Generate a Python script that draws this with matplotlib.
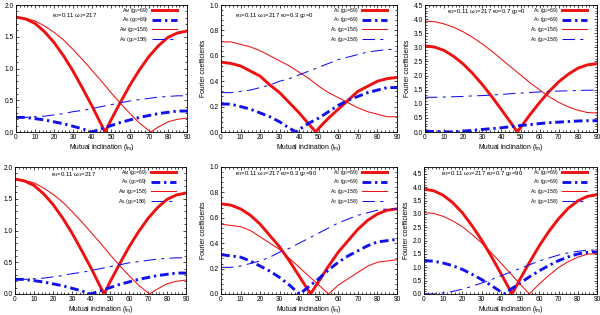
import numpy as np
import matplotlib
matplotlib.use('Agg')
import matplotlib.pyplot as plt
from matplotlib.ticker import MultipleLocator, AutoMinorLocator, FormatStrFormatter

plt.rcParams['font.family'] = ['Liberation Sans', 'DejaVu Sans']
plt.rcParams['mathtext.fontset'] = 'custom'
plt.rcParams['mathtext.rm'] = 'Liberation Sans'
plt.rcParams['mathtext.it'] = 'Liberation Sans'

# mutual inclination grid (deg)
incl = [0, 5, 10, 15, 20, 25, 30, 35, 40, 45, 50, 55, 60, 65, 70, 75, 80, 85, 90]

# panel a / d : e1=0.11 w1=217
am_69 = [1.81, 1.78, 1.71, 1.58, 1.41, 1.20, 0.96, 0.69, 0.41, 0.11, 0.19, 0.47, 0.74, 0.98, 1.19, 1.36, 1.49, 1.56, 1.59]
as_69 = [0.23, 0.23, 0.21, 0.19, 0.16, 0.13, 0.09, 0.05, 0.00, 0.05, 0.10, 0.15, 0.19, 0.23, 0.26, 0.29, 0.31, 0.33, 0.33]
am_158 = [1.81, 1.79, 1.75, 1.67, 1.57, 1.45, 1.30, 1.14, 0.97, 0.80, 0.62, 0.45, 0.29, 0.14, 0.02, 0.08, 0.16, 0.20, 0.22]
as_158 = [0.23, 0.23, 0.24, 0.25, 0.27, 0.29, 0.32, 0.34, 0.37, 0.40, 0.43, 0.46, 0.49, 0.51, 0.53, 0.55, 0.56, 0.57, 0.57]
zeros_a = [46.9, 39.8, 70.8, None]

# panel b : e2=0.3 g2=0
b_a1_69 = [0.55, 0.54, 0.52, 0.48, 0.44, 0.37, 0.31, 0.23, 0.15, 0.06, 0.03, 0.11, 0.18, 0.25, 0.32, 0.36, 0.40, 0.42, 0.43]
b_a2_69 = [0.22, 0.22, 0.20, 0.18, 0.15, 0.12, 0.08, 0.03, 0.02, 0.07, 0.11, 0.16, 0.21, 0.25, 0.28, 0.31, 0.33, 0.35, 0.35]
b_a1_158 = [0.71, 0.71, 0.69, 0.67, 0.64, 0.60, 0.56, 0.52, 0.47, 0.42, 0.36, 0.31, 0.27, 0.23, 0.19, 0.16, 0.14, 0.12, 0.12]
b_a2_158 = [0.31, 0.31, 0.32, 0.33, 0.35, 0.37, 0.40, 0.42, 0.45, 0.48, 0.51, 0.54, 0.57, 0.59, 0.61, 0.63, 0.64, 0.65, 0.65]
zeros_b = [48.5, 38.4, None, None]

# panel c : e2=0.7 g2=0
c_a1_69 = [3.05, 3.01, 2.89, 2.68, 2.41, 2.07, 1.68, 1.25, 0.79, 0.32, 0.16, 0.62, 1.05, 1.44, 1.78, 2.05, 2.26, 2.38, 2.42]
c_a2_69 = [0.02, 0.02, 0.01, 0.01, 0.03, 0.06, 0.09, 0.12, 0.15, 0.19, 0.23, 0.26, 0.30, 0.33, 0.35, 0.37, 0.39, 0.40, 0.40]
c_a1_158 = [3.93, 3.91, 3.83, 3.71, 3.55, 3.35, 3.12, 2.86, 2.58, 2.30, 2.02, 1.74, 1.49, 1.25, 1.05, 0.89, 0.77, 0.69, 0.67]
c_a2_158 = [1.23, 1.23, 1.24, 1.25, 1.26, 1.28, 1.29, 1.31, 1.33, 1.36, 1.38, 1.40, 1.42, 1.44, 1.45, 1.46, 1.47, 1.48, 1.48]
zeros_c = [48.3, 12.6, None, None]

# panel e : e2=0.3 g2=90
e_a1_69 = [0.71, 0.70, 0.67, 0.62, 0.55, 0.46, 0.37, 0.26, 0.14, 0.02, 0.10, 0.22, 0.33, 0.42, 0.51, 0.58, 0.63, 0.66, 0.67]
e_a2_69 = [0.31, 0.30, 0.29, 0.26, 0.22, 0.18, 0.13, 0.07, 0.00, 0.06, 0.12, 0.19, 0.25, 0.30, 0.34, 0.38, 0.41, 0.42, 0.43]
e_a1_158 = [0.55, 0.54, 0.53, 0.50, 0.45, 0.40, 0.35, 0.28, 0.21, 0.14, 0.07, 0.00, 0.07, 0.12, 0.17, 0.22, 0.25, 0.26, 0.27]
e_a2_158 = [0.21, 0.21, 0.22, 0.24, 0.26, 0.29, 0.33, 0.36, 0.40, 0.44, 0.48, 0.52, 0.56, 0.59, 0.62, 0.64, 0.66, 0.67, 0.67]
zeros_e = [45.8, 40.3, None, None]

# panel f : e2=0.7 g2=90
f_a1_69 = [3.93, 3.87, 3.70, 3.42, 3.04, 2.56, 2.02, 1.41, 0.77, 0.11, 0.56, 1.20, 1.81, 2.35, 2.82, 3.21, 3.49, 3.66, 3.72]
f_a2_69 = [1.25, 1.23, 1.16, 1.06, 0.92, 0.74, 0.54, 0.32, 0.08, 0.17, 0.41, 0.65, 0.87, 1.07, 1.25, 1.39, 1.50, 1.56, 1.58]
f_a1_158 = [3.05, 3.02, 2.91, 2.74, 2.52, 2.23, 1.91, 1.55, 1.16, 0.77, 0.37, 0.02, 0.38, 0.70, 0.99, 1.21, 1.38, 1.49, 1.52]
f_a2_158 = [0.01, 0.00, 0.04, 0.10, 0.18, 0.29, 0.41, 0.54, 0.68, 0.82, 0.96, 1.10, 1.24, 1.35, 1.46, 1.54, 1.60, 1.64, 1.65]
zeros_f = [45.8, 41.7, 54.8, None]

labels_a = [r'A$_\mathrm{M}$ (g$_1$=69)', r'A$_\mathrm{S}$ (g$_1$=69)',
            r'A$_\mathrm{M}$ (g$_1$=158)', r'A$_\mathrm{S}$ (g$_1$=158)']
labels_b = [r'A$_1$ (g$_1$=69)', r'A$_2$ (g$_1$=69)',
            r'A$_1$ (g$_1$=158)', r'A$_2$ (g$_1$=158)']

RED = '#ee1111'
BLUE = '#1111ee'
styles = [dict(color=RED, lw=2.1, ls='-'),
          dict(color=BLUE, lw=2.1, dashes=(3.0, 1.3, 0.8, 1.3)),
          dict(color=RED, lw=0.75, ls='-'),
          dict(color=BLUE, lw=0.75, dashes=(12, 5, 3, 5))]


def with_zero(vals, x0):
    x = list(incl)
    y = list(vals)
    if x0 is not None:
        k = int(np.searchsorted(x, x0))
        x.insert(k, x0)
        y.insert(k, 0.0)
    return x, y


panels = [
    dict(pos=(16, 5, 171), series=[am_69, as_69, am_158, as_158], zeros=zeros_a, labels=labels_a,
         ylim=2.0, ymaj=0.5, text=r'e$_1$=0.11 $\omega_1$=217', tx=0.21, ty=0.915, ylab=False),
    dict(pos=(221, 5, 176), series=[b_a1_69, b_a2_69, b_a1_158, b_a2_158], zeros=zeros_b, labels=labels_b,
         ylim=1.0, ymaj=0.2, text=r'e$_1$=0.11 $\omega_1$=217 e$_2$=0.3 g$_2$=0', tx=0.08, ty=0.915, ylab=True),
    dict(pos=(425, 5, 172), series=[c_a1_69, c_a2_69, c_a1_158, c_a2_158], zeros=zeros_c, labels=labels_b,
         ylim=4.5, ymaj=0.5, text=r'e$_1$=0.11 $\omega_1$=217 e$_2$=0.7 g$_2$=0', tx=0.13, ty=0.95, ylab=True),
    dict(pos=(15, 167, 171), series=[am_69, as_69, am_158, as_158], zeros=zeros_a, labels=labels_a,
         ylim=2.0, ymaj=0.5, text=r'e$_1$=0.11 $\omega_1$=217', tx=0.21, ty=0.94, ylab=False),
    dict(pos=(221, 167, 176), series=[e_a1_69, e_a2_69, e_a1_158, e_a2_158], zeros=zeros_e, labels=labels_b,
         ylim=1.0, ymaj=0.2, text=r'e$_1$=0.11 $\omega_1$=217 e$_2$=0.3 g$_2$=90', tx=0.08, ty=0.95, ylab=True),
    dict(pos=(424, 167, 173), series=[f_a1_69, f_a2_69, f_a1_158, f_a2_158], zeros=zeros_f, labels=labels_b,
         ylim=4.76, ymaj=0.5, text=r'e$_1$=0.11 $\omega_1$=217 e$_2$=0.7 g$_2$=90', tx=0.10, ty=0.95, ylab=True),
]

W, H = 600, 315
fig = plt.figure(figsize=(6, 3.15), dpi=100)

for p in panels:
    left, top, width = p['pos']
    ax = fig.add_axes([left / W, 1 - (top + 127) / H, width / W, 127 / H])
    for vals, x0, lab, st in zip(p['series'], p['zeros'], p['labels'], styles):
        x, y = with_zero(vals, x0)
        ax.plot(x, y, label=lab, **st)
    ax.set_xlim(0, 90)
    ax.set_ylim(0, p['ylim'])
    ax.xaxis.set_major_locator(MultipleLocator(10))
    ax.xaxis.set_minor_locator(AutoMinorLocator(5))
    ax.yaxis.set_major_locator(MultipleLocator(p['ymaj']))
    ax.yaxis.set_minor_locator(AutoMinorLocator(5))
    ax.yaxis.set_major_formatter(FormatStrFormatter('%.1f'))
    ax.tick_params(which='both', direction='in', top=True, right=True, labelsize=4.8,
                   width=0.5, pad=1.5)
    ax.tick_params(which='major', length=2.5)
    ax.tick_params(which='minor', length=1.2)
    for s in ax.spines.values():
        s.set_linewidth(0.6)
    ax.set_xlabel(r'Mutual inclination (i$_\mathrm{m}$)', fontsize=4.9, labelpad=1)
    if p['ylab']:
        ax.set_ylabel('Fourier coefficients', fontsize=4.9, labelpad=2)
    ax.text(p['tx'], p['ty'], p['text'], transform=ax.transAxes, fontsize=4.3, va='center', ha='left')
    ax.legend(loc='upper right', bbox_to_anchor=(1 - 9 / width, 1.0), frameon=False,
              markerfirst=False, fontsize=3.7, handlelength=5.0, labelspacing=0.12,
              borderaxespad=0.0, borderpad=0.15, handletextpad=0.6)

fig.savefig('out.png', dpi=100)
